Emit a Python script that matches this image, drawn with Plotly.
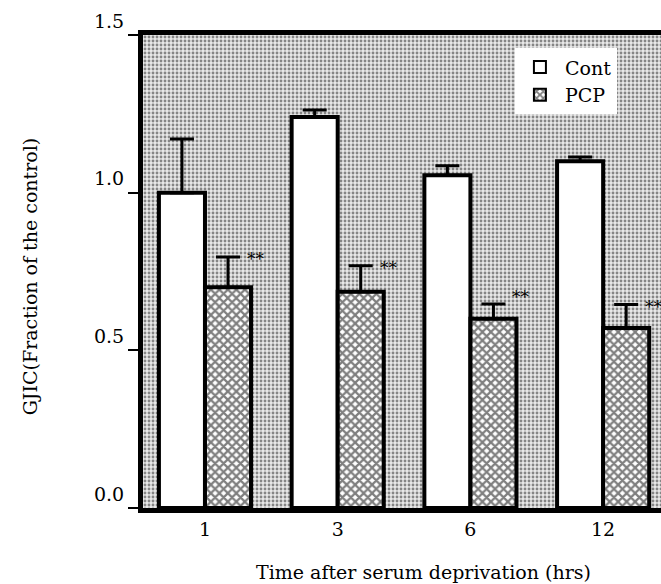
import plotly.graph_objects as go

# ---- data ----
times = ["1", "3", "6", "12"]
cont_mean = [1.00, 1.24, 1.055, 1.10]
cont_err_top = [1.17, 1.262, 1.085, 1.113]
pcp_mean = [0.70, 0.686, 0.60, 0.571]
pcp_err_top = [0.796, 0.768, 0.647, 0.645]
sig_marks = ["**", "**", "**", "**"]
yticks = [0.0, 0.5, 1.0, 1.5]
ytick_text = ["0.0", "0.5", "1.0", "1.5"]

xpos = list(range(len(times)))
BW = 0.347
CAP_HALF = 0.09
FONT = "DejaVu Serif"

fig = go.Figure()

# stippled background panel
fig.add_trace(go.Bar(
    x=[0], y=[max(yticks)], offset=-0.47, width=4.0,
    marker=dict(color="#eeeeee", line=dict(width=0),
                pattern=dict(shape=".", fgcolor="#222222", bgcolor="#e8e8e8",
                             size=4, solidity=0.4)),
    showlegend=False, hoverinfo="skip"))

fig.add_trace(go.Bar(
    name="Cont", x=xpos, y=cont_mean, offset=-BW, width=BW,
    marker=dict(color="white", line=dict(color="black", width=4)),
    error_y=dict(type="data", symmetric=False,
                 array=[t - m for t, m in zip(cont_err_top, cont_mean)],
                 arrayminus=[0] * len(cont_mean),
                 color="black", thickness=3, width=12)))

fig.add_trace(go.Bar(
    name="PCP", x=xpos, y=pcp_mean, offset=0, width=BW,
    marker=dict(color="white", line=dict(color="black", width=4),
                pattern=dict(shape="x", fgcolor="black", bgcolor="white",
                             size=6, solidity=0.6)),
    error_y=dict(type="data", symmetric=False,
                 array=[t - m for t, m in zip(pcp_err_top, pcp_mean)],
                 arrayminus=[0] * len(pcp_mean),
                 color="black", thickness=3, width=12)))

star_dy = [0, 0, 9, 0]
for i, (x, yt, s) in enumerate(zip(xpos, pcp_err_top, sig_marks)):
    fig.add_annotation(x=x + BW / 2 + CAP_HALF, y=yt, text=s, showarrow=False,
                       xanchor="left", xshift=5, yshift=star_dy[i] - 2,
                       font=dict(family=FONT, size=17, color="black"))

fig.add_annotation(text="Time after serum deprivation (hrs)", xref="paper", yref="paper",
                   x=0.542, y=-0.135, showarrow=False, xanchor="center", yanchor="middle",
                   font=dict(family=FONT, size=19, color="black"))
fig.add_annotation(text="GJIC(Fraction of the control)", xref="paper", yref="paper",
                   x=-0.218, y=0.49, showarrow=False, textangle=-90,
                   xanchor="center", yanchor="middle",
                   font=dict(family=FONT, size=19, color="black"))

fig.update_layout(
    width=661, height=584,
    margin=dict(l=143, r=0, t=35, b=76),
    barmode="overlay",
    paper_bgcolor="white", plot_bgcolor="white",
    font=dict(family=FONT, size=19, color="black"),
    legend=dict(x=0.718, y=0.972, xanchor="left", yanchor="top",
                bgcolor="white", borderwidth=0, font=dict(family=FONT, size=19),
                itemsizing="constant", itemwidth=40),
    xaxis=dict(range=[-0.467, 3.436], tickvals=xpos, ticktext=times,
               tickfont=dict(family=FONT, size=19),
               showline=True, linecolor="black", linewidth=5, mirror=True,
               ticks="", showgrid=False, zeroline=False, fixedrange=True),
    yaxis=dict(range=[0, 1.5], tickvals=yticks, ticktext=ytick_text,
               tickfont=dict(family=FONT, size=19),
               showline=True, linecolor="black", linewidth=5,
               ticks="outside", ticklen=10, tickwidth=2, tickcolor="black",
               ticklabelshift=-14,
               showgrid=False, zeroline=False),
)

fig.write_html("out.html")
